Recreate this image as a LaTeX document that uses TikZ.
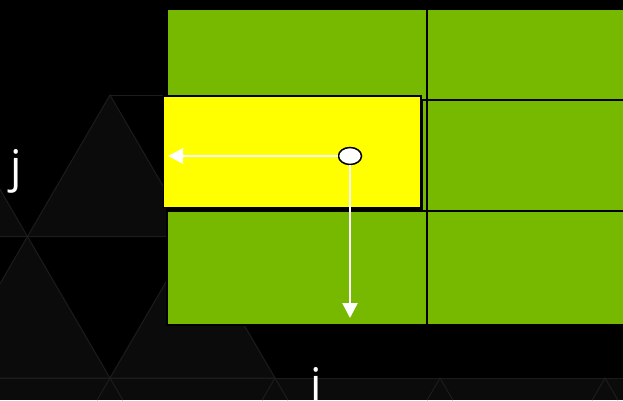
\documentclass[tikz,border=0pt]{standalone}
\usepackage{fontspec}
\setmainfont{Open Sans}
\usetikzlibrary{arrows.meta,positioning,shapes.geometric,shadows}

\definecolor{nvgreen}{HTML}{76B900}
\definecolor{hiyellow}{HTML}{FFFF00}
\definecolor{bgtri}{HTML}{0B0B0B}
\definecolor{bgline}{HTML}{1C1C1C}

\begin{document}
\begin{tikzpicture}[
  x=1pt, y=-1pt,
  cell/.style={draw=black, fill=nvgreen, line width=1.6pt, inner sep=0pt, outer sep=0pt, anchor=north west, minimum width=260pt, minimum height=#1},
  tile/.style={draw=black, fill=hiyellow, line width=1.5pt, inner sep=0pt, outer sep=0pt, anchor=north west, minimum width=257.5pt, minimum height=111.5pt, drop shadow={shadow xshift=2pt, shadow yshift=-2.5pt, opacity=1, fill=black}},
  probe/.style={ellipse, draw=black, fill=white, line width=1.5pt, minimum width=23pt, minimum height=17pt, inner sep=0pt},
  dir/.style={-{Triangle[length=15pt, width=15pt]}, line width=2.4pt, draw=white},
  lbl/.style={text=white, font=\fontsize{45}{54}\selectfont, inner sep=0pt, anchor=base},
  tri/.style={fill=bgtri, draw=bgline, line width=1pt}
]
\useasboundingbox (0,0) rectangle (623,400);
% background
\fill[black] (0,0) rectangle (623,400);
\fill[bgtri] (0,378) rectangle (623,400);
\path[tri] (110,95) -- (27.5,236.5) -- (192.5,236.5) -- cycle;
\path[tri] (-55,95) -- (-137.5,236.5) -- (27.5,236.5) -- cycle;
\path[tri] (27.5,236.5) -- (-55,378) -- (110,378) -- cycle;
\path[tri] (192.5,236.5) -- (110,378) -- (275,378) -- cycle;
\draw[bgline, line width=1pt] (110,95) -- (167,95);
\draw[bgline, line width=1pt] (0,236.5) -- (167,236.5);
\draw[bgline, line width=1pt] (0,378) -- (623,378);
\foreach \x in {110,275,440,605}
  \draw[bgline, line width=1pt] (\x-12.8,400) -- (\x,378) -- (\x+12.8,400);

% grid
\node[cell=90.5pt] (c11) at (167,9.5) {};
\node[cell=90.5pt] (c12) at (c11.north east) {};
\node[cell=111pt] (c21) at (c11.south west) {};
\node[cell=111pt] (c22) at (c21.north east) {};
\node[cell=114pt] (c31) at (c21.south west) {};
\node[cell=114pt] (c32) at (c31.north east) {};

% highlighted row
\node[tile] (row) at (163.5,96) {};
\node[probe] (elem) at (350,156) {};
\coordinate (jtip) at (168,156);
\coordinate (itip) at (350,318);
\draw[dir] (elem) -- (jtip);
\draw[dir] (elem) -- (itip);

% labels
\node[lbl] (jlab) at (16.5,182) {j};
\node[lbl] (ilab) at (316.5,400) {i};
\end{tikzpicture}
\end{document}
